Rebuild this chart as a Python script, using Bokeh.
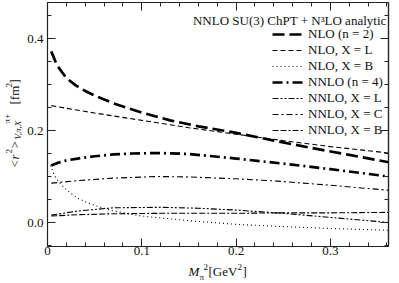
import math
from bokeh.plotting import figure
from bokeh.layouts import row, column
from bokeh.models import (Range1d, LinearAxis, SingleIntervalTicker, FixedTicker,
                          PrintfTickFormatter, Legend, LegendItem, Label)
from bokeh.embed import file_html
from bokeh.resources import INLINE

# ---- data ----
nlo_n2_x = [0.004, 0.01, 0.02, 0.03, 0.04, 0.05, 0.07, 0.1, 0.13, 0.16, 0.2, 0.24, 0.28, 0.32, 0.362]
nlo_n2_y = [0.372, 0.342, 0.314, 0.298, 0.286, 0.276, 0.259, 0.239, 0.222, 0.209, 0.195, 0.178, 0.162, 0.147, 0.131]

nlo_L_x = [0.004, 0.05, 0.1, 0.15, 0.2, 0.25, 0.3, 0.362]
nlo_L_y = [0.254, 0.238, 0.222, 0.206, 0.192, 0.178, 0.165, 0.151]

nlo_B_x = [0.003, 0.008, 0.012, 0.018, 0.025, 0.032, 0.04, 0.05, 0.07, 0.1, 0.15, 0.2, 0.25, 0.3, 0.362]
nlo_B_y = [0.124, 0.100, 0.088, 0.075, 0.063, 0.053, 0.045, 0.037, 0.025, 0.014, 0.004, -0.004, -0.009, -0.013, -0.017]

nnlo_n4_x = [0.004, 0.01, 0.02, 0.032, 0.05, 0.07, 0.09, 0.117, 0.15, 0.2, 0.25, 0.3, 0.362]
nnlo_n4_y = [0.124, 0.129, 0.135, 0.139, 0.144, 0.148, 0.150, 0.151, 0.149, 0.139, 0.128, 0.116, 0.100]

nnlo_L_x = [0.004, 0.032, 0.07, 0.12, 0.16, 0.2, 0.25, 0.3, 0.362]
nnlo_L_y = [0.016, 0.025, 0.032, 0.033, 0.031, 0.027, 0.020, 0.011, 0.000]

nnlo_C_x = [0.004, 0.032, 0.07, 0.117, 0.15, 0.2, 0.244, 0.3, 0.362]
nnlo_C_y = [0.0855, 0.091, 0.0965, 0.100, 0.099, 0.095, 0.090, 0.081, 0.070]

nnlo_B_x = [0.004, 0.032, 0.07, 0.12, 0.2, 0.25, 0.3, 0.362]
nnlo_B_y = [0.014, 0.017, 0.019, 0.020, 0.020, 0.021, 0.021, 0.022]

legend_labels = ["NLO (n = 2)", "NLO, X = L", "NLO, X = B", "NNLO (n = 4)",
                 "NNLO, X = L", "NNLO, X = C", "NNLO, X = B"]
title_text = "NNLO SU(3) ChPT + N\u00b3LO analytic"

x_major = [0.0, 0.1, 0.2, 0.3]
y_major = [0.0, 0.2, 0.4]

# ---- layout (page pixels) ----
W, H = 399, 283
LW = 24            # width of the strip holding the y-axis title
MH = 261           # height of the main figure
FL, FR, FT, FB = 47, 388, 2, 246  # frame edges in page pixels
X0, X1 = 0.0, (FR - FL) / 943.0
Y0, Y1 = -(FB - 222) / 460.0, (222 - FT) / 460.0

x_minor = [round(0.02 * i, 2) for i in range(0, 19) if i % 5 != 0]
y_minor = [round(-0.05 + 0.05 * i, 2) for i in range(0, 11) if i % 4 != 1]

SERIF = "Liberation Serif"
AX = "#222222"
TXT = "#111111"

p = figure(width=W - LW, height=MH, x_range=Range1d(X0, X1), y_range=Range1d(Y0, Y1),
           output_backend="svg", toolbar_location=None,
           min_border_left=FL - LW, min_border_right=W - FR, min_border_top=FT,
           min_border_bottom=MH - FB)
p.outline_line_color = None
p.xgrid.visible = False
p.ygrid.visible = False


def style_axis(ax, tick_len=8):
    ax.axis_line_color = AX
    ax.axis_line_width = 1.2
    ax.major_tick_in = 8
    ax.major_tick_out = 0
    ax.minor_tick_in = tick_len
    ax.minor_tick_out = 0
    ax.major_tick_line_color = AX
    ax.minor_tick_line_color = AX
    ax.major_label_text_font = SERIF
    ax.major_label_text_font_style = "normal"
    ax.major_label_text_color = TXT
    ax.major_label_text_font_size = "13px"


p.xaxis.ticker = SingleIntervalTicker(interval=0.1, num_minor_ticks=5)
p.yaxis.ticker = SingleIntervalTicker(interval=0.2, num_minor_ticks=4)
p.yaxis.formatter = PrintfTickFormatter(format="%.1f")
style_axis(p.xaxis[0], 4)
style_axis(p.yaxis[0], 4)
p.xaxis.major_label_standoff = 0
p.yaxis.major_label_standoff = 4

# mirrored ticks on top and right: tick marks only, no labels
for place, majors, minors in (("above", x_major, x_minor), ("right", y_major, y_minor)):
    for ticks, ln in ((minors, 4), (majors, 8)):
        ax = LinearAxis(ticker=FixedTicker(ticks=[], minor_ticks=ticks))
        style_axis(ax, ln)
        ax.major_label_standoff = 0
        p.add_layout(ax, place)

# ---- curves ----
r1 = p.line(nlo_n2_x, nlo_n2_y, line_color="black", line_width=2.7, line_dash="12 5")
r2 = p.line(nlo_L_x, nlo_L_y, line_color="black", line_width=1.1, line_dash="5 3")
r3 = p.line(nlo_B_x, nlo_B_y, line_color="black", line_width=1.1, line_dash="1 3")
r4 = p.line(nnlo_n4_x, nnlo_n4_y, line_color="black", line_width=2.7, line_dash="10 4 2 4")
r5 = p.line(nnlo_L_x, nnlo_L_y, line_color="black", line_width=1.1, line_dash="6 2 2 2 2 2")
r6 = p.line(nnlo_C_x, nnlo_C_y, line_color="black", line_width=1.1, line_dash="6 3 2 3")
r7 = p.line(nnlo_B_x, nnlo_B_y, line_color="black", line_width=1.1, line_dash="6 2 6 2 2 2")

items = [LegendItem(label=t, renderers=[r]) for t, r in
         zip(legend_labels, [r1, r2, r3, r4, r5, r6, r7])]
legend = Legend(items=items, location=(272 - FL, FB - 138),
                glyph_width=31, glyph_height=12, label_height=12, label_standoff=5,
                spacing=-1, padding=0, margin=0, border_line_color=None,
                background_fill_alpha=0, label_text_font=SERIF,
                label_text_font_size="13px", label_text_line_height=0.88,
                label_text_color=TXT)
p.add_layout(legend)


def blank(width, height):
    f = figure(width=width, height=height, x_range=Range1d(0, 1), y_range=Range1d(0, 1),
               output_backend="svg", toolbar_location=None,
               x_axis_location=None, y_axis_location=None,
               min_border_left=0, min_border_right=0, min_border_top=0, min_border_bottom=0)
    f.outline_line_color = None
    f.xgrid.visible = False
    f.ygrid.visible = False
    return f


ylab_fig = blank(LW, H)
xlab_fig = blank(W - LW, H - MH)


def lab(fig, ox, oy, px, py, text, size="13px", style="normal", angle=0.0, align="left"):
    fig.add_layout(Label(x=px - ox, y=py - oy, x_units="canvas", y_units="canvas",
                         text=text, text_align=align, text_baseline="middle",
                         text_font=SERIF, text_font_size=size, text_font_style=style,
                         text_color=TXT, angle=angle))


lab(p, LW, 0, 386, 20, title_text, align="right")

lab(xlab_fig, LW, MH, 188, 271, "M", style="italic")
lab(xlab_fig, LW, MH, 199, 276, "\u03c0", size="9px")
lab(xlab_fig, LW, MH, 203, 266, "2", size="9px")
lab(xlab_fig, LW, MH, 208, 271, "[GeV")
lab(xlab_fig, LW, MH, 237, 266, "2", size="9px")
lab(xlab_fig, LW, MH, 242, 271, "]")

A = math.pi / 2
lab(ylab_fig, 0, 0, 14, 167, "<", angle=A)
lab(ylab_fig, 0, 0, 14, 159, "r", style="italic", angle=A)
lab(ylab_fig, 0, 0, 8, 153, "2", size="9px", angle=A)
lab(ylab_fig, 0, 0, 14, 148, ">", angle=A)
lab(ylab_fig, 0, 0, 17, 139, "V,\u03c0,X", size="9px", style="italic", angle=A)
lab(ylab_fig, 0, 0, 6, 123, "\u03c0+", size="9px", angle=A)
lab(ylab_fig, 0, 0, 14, 104, "[fm", angle=A)
lab(ylab_fig, 0, 0, 8, 87, "2", size="9px", angle=A)
lab(ylab_fig, 0, 0, 14, 83, "]", angle=A)

page = row(ylab_fig, column(p, xlab_fig, spacing=0), spacing=0)
open("out.html", "w").write(file_html(page, INLINE))
